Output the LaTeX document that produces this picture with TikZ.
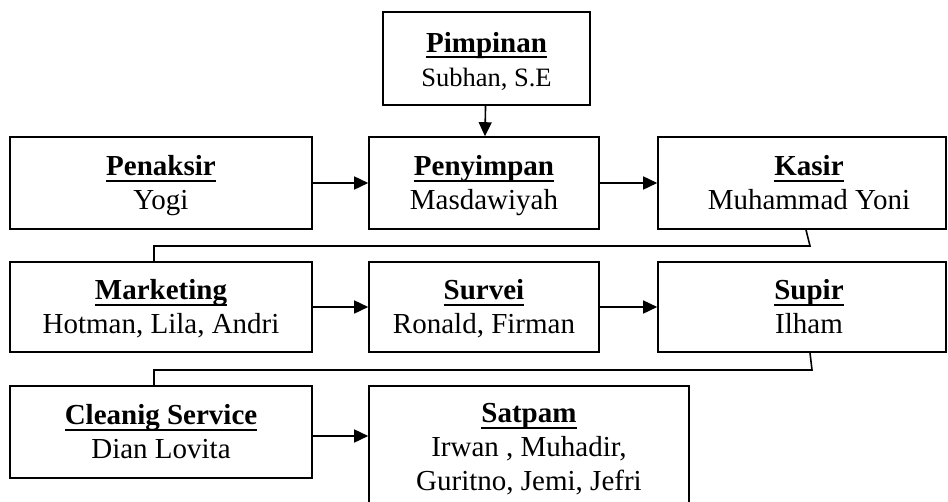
\documentclass[tikz,border=0pt]{standalone}
\usepackage{fontspec}
\setmainfont{Liberation Serif}
\usetikzlibrary{arrows.meta}
\tikzset{
  orgbox/.style={draw=black, line width=1.6pt, fill=white, align=center, inner sep=2pt,
    font=\fontsize{29}{34}\selectfont},
  link/.style={line width=1.6pt, draw=black},
  arr/.style={link, -{Triangle[length=14pt,width=13pt]}},
}
\newsavebox{\hdbox}
\newcommand{\hd}[1]{\sbox{\hdbox}{\textbf{#1}}\rule{0pt}{30pt}\rlap{\rule[-6pt]{\wd\hdbox}{2.4pt}}\usebox{\hdbox}}
\newcommand{\lst}[1]{#1\strut}
\begin{document}
\begin{tikzpicture}[x=1pt,y=-1pt]
\useasboundingbox (0,0) rectangle (948,501);
\clip (0,0) rectangle (948,501);
\fill[white] (0,0) rectangle (948,501);
% top
\node[orgbox, minimum width=207pt, minimum height=93pt] (pimpinan) at (486.5,58.5) {\hd{Pimpinan}\\\fontsize{26.5}{30}\selectfont \lst{Subhan, S.E}};
% row 1
\node[orgbox, minimum width=302pt, minimum height=92pt] (penaksir) at (161,183) {\hd{Penaksir}\\\lst{Yogi}};
\node[orgbox, minimum width=230pt, minimum height=92pt] (penyimpan) at (484,183) {\hd{Penyimpan}\\\lst{Masdawiyah}};
\node[orgbox, minimum width=288pt, minimum height=92pt] (kasir) at (802,183) {\hspace*{14pt}\hd{Kasir}\\\hspace*{14pt}\lst{Muhammad Yoni}};
% row 2
\node[orgbox, minimum width=302pt, minimum height=90pt] (marketing) at (161,307) {\hd{Marketing}\\\lst{Hotman, Lila, Andri}};
\node[orgbox, minimum width=230pt, minimum height=90pt] (survei) at (484,307) {\hd{Survei}\\\lst{Ronald, Firman}};
\node[orgbox, minimum width=288pt, minimum height=90pt] (supir) at (802,307) {\hspace*{14pt}\hd{Supir}\\\hspace*{14pt}\lst{Ilham}};
% row 3
\node[orgbox, minimum width=302pt, minimum height=92pt] (cleanig) at (161,432) {\hd{Cleanig Service}\\\lst{Dian Lovita}};
\node[orgbox, minimum width=320pt, minimum height=122pt] (satpam) at (529,447) {\hd{Satpam}\\Irwan , Muhadir,\\\lst{Guritno, Jemi, Jefri}};
% arrows
\draw[arr] (pimpinan) -- (penyimpan);
\draw[arr] (penaksir) -- (penaksir -| penyimpan.west);
\draw[arr] (penyimpan) -- (penyimpan -| kasir.west);
\draw[arr] (marketing) -- (marketing -| survei.west);
\draw[arr] (survei) -- (survei -| supir.west);
\draw[arr] ([yshift=-4pt]cleanig.east) -- ([yshift=-4pt]cleanig.east -| satpam.west);
% connectors between rows
\coordinate (a1) at (810,246);
\coordinate (a2) at (154,246);
\draw[link] ([xshift=4pt]kasir.south) -- (a1) -- (a2) -- (a2 |- marketing.north);
\coordinate (b1) at (812,370);
\coordinate (b2) at (154,370);
\draw[link] ([xshift=8pt]supir.south) -- (b1) -- (b2) -- (b2 |- cleanig.north);
\end{tikzpicture}
\end{document}
